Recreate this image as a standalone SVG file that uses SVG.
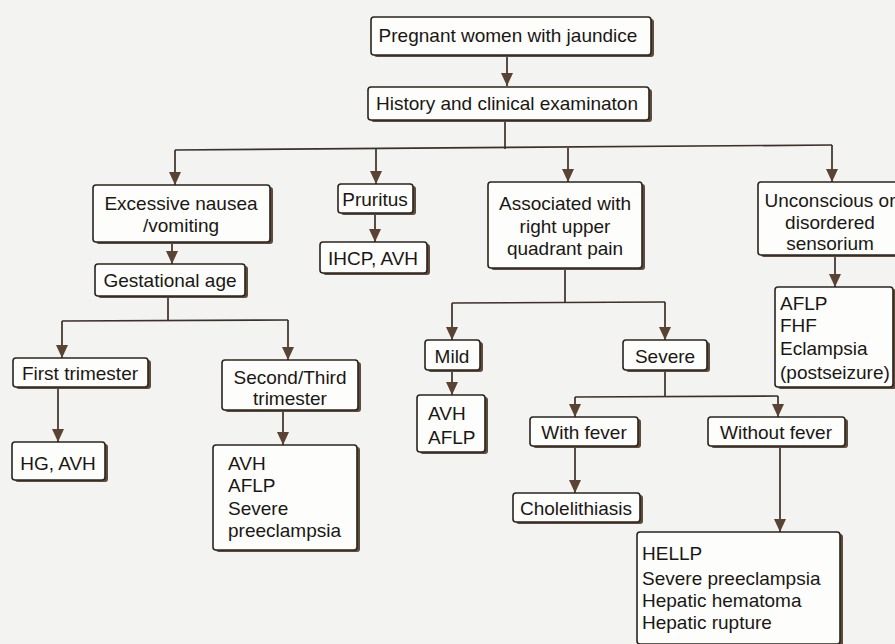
<svg xmlns="http://www.w3.org/2000/svg" width="895" height="644" viewBox="0 0 895 644">
<defs>
<style>
.sh{fill:#5e4b3b}
.bx{fill:#fdfdfb;stroke:#2a241f;stroke-width:1.6}
.t{font-family:"Liberation Sans",Arial,sans-serif;font-size:19px;fill:#1a1714}
.c{text-anchor:middle}
.ln{fill:none;stroke:#3d3027;stroke-width:1.7}
.ar{fill:none;stroke:#3d3027;stroke-width:1.7;marker-end:url(#ah)}
</style>
<marker id="ah" markerUnits="userSpaceOnUse" markerWidth="13" markerHeight="12" refX="13" refY="6" orient="auto" viewBox="0 0 13 12">
<path d="M0,0 L13,6 L0,12 Z" fill="#5a4333"/>
</marker>
</defs>
<rect x="0" y="0" width="895" height="644" fill="#f3f3f1"/>

<g id="connectors">
<path class="ar" d="M507,55 L507,86"/>
<path class="ln" d="M505,120 L505,149"/>
<path class="ln" d="M175,150 L832,145"/>
<path class="ar" d="M175,150 L175,185"/>
<path class="ar" d="M376,149 L376,184"/>
<path class="ar" d="M568,148 L568,182"/>
<path class="ar" d="M832,145 L832,182"/>
<path class="ar" d="M172,242 L172,264"/>
<path class="ln" d="M168,296 L168,321"/>
<path class="ln" d="M62,321 L288,320"/>
<path class="ar" d="M62,321 L62,358"/>
<path class="ar" d="M288,320 L288,360"/>
<path class="ar" d="M58,387 L58,442"/>
<path class="ar" d="M283,410 L283,445"/>
<path class="ar" d="M375,213 L375,242"/>
<path class="ln" d="M565,268 L565,303"/>
<path class="ln" d="M452,303 L665,302"/>
<path class="ar" d="M452,303 L452,340"/>
<path class="ar" d="M665,302 L665,340"/>
<path class="ar" d="M452,370 L452,395"/>
<path class="ln" d="M665,370 L665,397"/>
<path class="ln" d="M575,397 L778,396"/>
<path class="ar" d="M575,397 L575,417"/>
<path class="ar" d="M778,396 L778,417"/>
<path class="ar" d="M575,446 L575,493"/>
<path class="ar" d="M780,446 L780,532"/>
<path class="ar" d="M835,255 L835,287"/>
</g>

<g id="n1"><rect class="sh" x="374" y="19" width="280" height="38" rx="3"/><rect class="bx" x="371" y="17" width="280" height="38" rx="3"/><text class="t c" x="508" y="42">Pregnant women with jaundice</text></g>
<g id="n2"><rect class="sh" x="371" y="89" width="281" height="33" rx="3"/><rect class="bx" x="368" y="87" width="281" height="33" rx="3"/><text class="t c" x="507" y="110">History and clinical examinaton</text></g>
<g id="n3"><rect class="sh" x="96" y="187" width="177" height="57" rx="3"/><rect class="bx" x="93" y="185" width="177" height="57" rx="3"/><text class="t c" x="181" y="210">Excessive nausea</text><text class="t c" x="181" y="232">/vomiting</text></g>
<g id="n4"><rect class="sh" x="98" y="266" width="150" height="32" rx="3"/><rect class="bx" x="95" y="264" width="150" height="32" rx="3"/><text class="t c" x="170" y="287">Gestational age</text></g>
<g id="n5"><rect class="sh" x="341" y="186" width="75" height="29" rx="3"/><rect class="bx" x="338" y="184" width="75" height="29" rx="3"/><text class="t c" x="375" y="206">Pruritus</text></g>
<g id="n6"><rect class="sh" x="323" y="244" width="107" height="31" rx="3"/><rect class="bx" x="320" y="242" width="107" height="31" rx="3"/><text class="t c" x="373" y="265">IHCP, AVH</text></g>
<g id="n7"><rect class="sh" x="491" y="184" width="154" height="86" rx="3"/><rect class="bx" x="488" y="182" width="154" height="86" rx="3"/><text class="t c" x="565" y="210">Associated with</text><text class="t c" x="565" y="233">right upper</text><text class="t c" x="565" y="255">quadrant pain</text></g>
<g id="n8"><rect class="sh" x="761" y="184" width="140" height="73" rx="3"/><rect class="bx" x="758" y="182" width="140" height="73" rx="3"/><text class="t c" x="830" y="207">Unconscious or</text><text class="t c" x="830" y="229">disordered</text><text class="t c" x="830" y="250">sensorium</text></g>
<g id="n9"><rect class="sh" x="778" y="289" width="118" height="100" rx="3"/><rect class="bx" x="775" y="287" width="118" height="100" rx="3"/><text class="t" x="780" y="310">AFLP</text><text class="t" x="780" y="332">FHF</text><text class="t" x="780" y="355">Eclampsia</text><text class="t" x="780" y="379">(postseizure)</text></g>
<g id="n10"><rect class="sh" x="428" y="342" width="55" height="30" rx="3"/><rect class="bx" x="425" y="340" width="55" height="30" rx="3"/><text class="t c" x="452" y="363">Mild</text></g>
<g id="n11"><rect class="sh" x="626" y="342" width="84" height="30" rx="3"/><rect class="bx" x="623" y="340" width="84" height="30" rx="3"/><text class="t c" x="665" y="363">Severe</text></g>
<g id="n12"><rect class="sh" x="420" y="397" width="68" height="57" rx="3"/><rect class="bx" x="417" y="395" width="68" height="57" rx="3"/><text class="t" x="428" y="420">AVH</text><text class="t" x="428" y="444">AFLP</text></g>
<g id="n13"><rect class="sh" x="533" y="419" width="108" height="29" rx="3"/><rect class="bx" x="530" y="417" width="108" height="29" rx="3"/><text class="t c" x="584" y="439">With fever</text></g>
<g id="n14"><rect class="sh" x="711" y="419" width="137" height="29" rx="3"/><rect class="bx" x="708" y="417" width="137" height="29" rx="3"/><text class="t c" x="776" y="439">Without fever</text></g>
<g id="n15"><rect class="sh" x="516" y="495" width="127" height="29" rx="3"/><rect class="bx" x="513" y="493" width="127" height="29" rx="3"/><text class="t c" x="576" y="515">Cholelithiasis</text></g>
<g id="n16"><rect class="sh" x="640" y="534" width="203" height="112" rx="3"/><rect class="bx" x="637" y="532" width="203" height="112" rx="3"/><text class="t" x="642" y="560">HELLP</text><text class="t" x="642" y="585">Severe preeclampsia</text><text class="t" x="642" y="607">Hepatic hematoma</text><text class="t" x="642" y="629">Hepatic rupture</text></g>
<g id="n17"><rect class="sh" x="16" y="360" width="135" height="29" rx="3"/><rect class="bx" x="13" y="358" width="135" height="29" rx="3"/><text class="t c" x="80" y="380">First trimester</text></g>
<g id="n18"><rect class="sh" x="225" y="362" width="136" height="50" rx="3"/><rect class="bx" x="222" y="360" width="136" height="50" rx="3"/><text class="t c" x="290" y="384">Second/Third</text><text class="t c" x="290" y="405">trimester</text></g>
<g id="n19"><rect class="sh" x="15" y="444" width="93" height="38" rx="3"/><rect class="bx" x="12" y="442" width="93" height="38" rx="3"/><text class="t c" x="58" y="470">HG, AVH</text></g>
<g id="n20"><rect class="sh" x="216" y="447" width="144" height="105" rx="3"/><rect class="bx" x="213" y="445" width="144" height="105" rx="3"/><text class="t" x="228" y="470">AVH</text><text class="t" x="228" y="492">AFLP</text><text class="t" x="228" y="515">Severe</text><text class="t" x="228" y="537">preeclampsia</text></g>
</svg>
